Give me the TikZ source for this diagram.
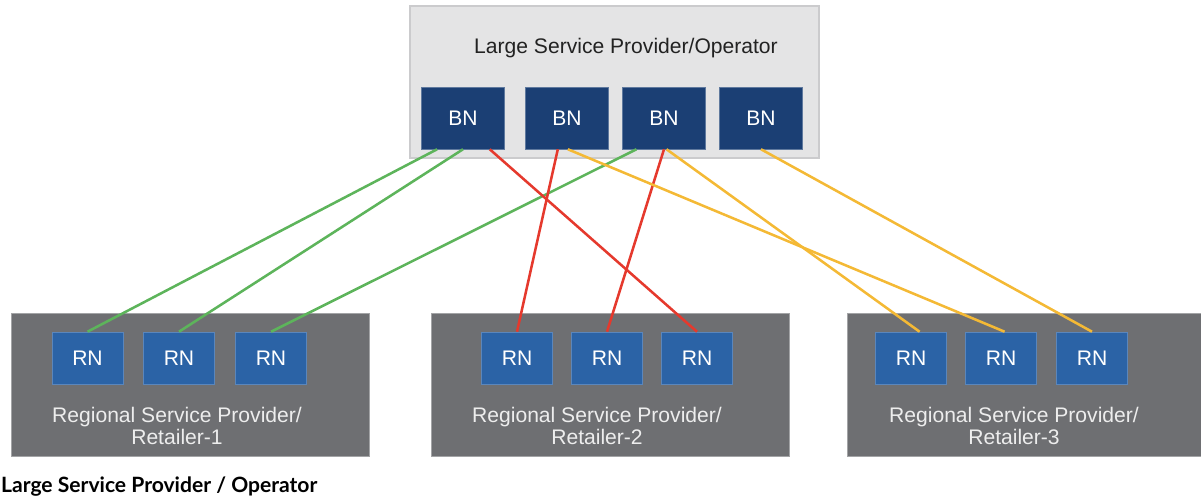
\documentclass[tikz,border=0pt]{standalone}
\usepackage{fontspec}
\setmainfont{Liberation Sans}
\newfontfamily\latofont{Lato}
\usepackage{tikz}
\usetikzlibrary{calc,positioning}
\definecolor{PanelGray}{HTML}{E4E4E5}
\definecolor{FrameGray}{HTML}{CBCBCD}
\definecolor{RegionGray}{HTML}{6E6F72}
\definecolor{RegionFrame}{HTML}{A3A4A6}
\definecolor{BNBlue}{HTML}{1B3F74}
\definecolor{RNBlue}{HTML}{2B63A6}
\definecolor{RNFrame}{HTML}{5A86BC}
\definecolor{LinkGreen}{HTML}{5DB45B}
\definecolor{LinkRed}{HTML}{E5392D}
\definecolor{LinkYellow}{HTML}{F4B935}
\definecolor{Ink}{HTML}{222222}
\definecolor{Paper}{HTML}{EDEDED}

\begin{document}
\begin{tikzpicture}[x=1cm,y=1cm,
    bnbox/.style={fill=BNBlue,draw=BNBlue!70!white,line width=0.4pt,minimum width=2.075cm,minimum height=1.55cm,inner sep=0pt,text=white,font=\fontsize{15}{15.6}\selectfont},
    rnbox/.style={fill=RNBlue,draw=RNFrame,line width=0.4pt,minimum width=1.775cm,minimum height=1.3cm,inner sep=0pt,text=white,font=\fontsize{15}{15.6}\selectfont},
    region/.style={fill=RegionGray,draw=RegionFrame,line width=0.6pt,minimum height=3.575cm,inner sep=0pt},
    regionlabel/.style={align=center,text=Paper,inner sep=0pt,font=\fontsize{15}{15.6}\selectfont},
    link/.style={line width=1.8pt}]
  \useasboundingbox (0,0) rectangle (30.025,12.425);
  % operator panel
  \node[fill=PanelGray,draw=FrameGray,line width=0.8pt,minimum width=10.225cm,minimum height=3.8cm,inner sep=0pt] (operator) at (15.3625,10.375) {};
  \node[text=Ink,font=\fontsize{15}{15.6}\selectfont] (optitle) at (15.65,11.225) {Large Service Provider/Operator};
  \node[bnbox] (bn1) at (11.575,9.475) {BN};
  \node[bnbox] (bn2) at (14.175,9.475) {BN};
  \node[bnbox] (bn3) at (16.6,9.475) {BN};
  \node[bnbox] (bn4) at (19.025,9.475) {BN};
  % regional providers
  \node[region,minimum width=8.95cm] (reg1) at (4.75,2.8125) {};
  \node[region,minimum width=8.95cm] (reg2) at (15.25,2.8125) {};
  \node[region,minimum width=8.85cm] (reg3) at (25.6,2.8125) {};
  \node[rnbox] (rna1) at (2.1875,3.475) {RN};
  \node[rnbox] (rna2) at (4.475,3.475) {RN};
  \node[rnbox] (rna3) at (6.775,3.475) {RN};
  \node[rnbox] (rnb1) at (12.925,3.475) {RN};
  \node[rnbox] (rnb2) at (15.175,3.475) {RN};
  \node[rnbox] (rnb3) at (17.425,3.475) {RN};
  \node[rnbox] (rnc1) at (22.775,3.475) {RN};
  \node[rnbox] (rnc2) at (25.025,3.475) {RN};
  \node[rnbox] (rnc3) at (27.3,3.475) {RN};
  \node[regionlabel] (lab1) at (4.425,1.775) {Regional Service Provider/\\Retailer-1};
  \node[regionlabel] (lab2) at (14.925,1.775) {Regional Service Provider/\\Retailer-2};
  \node[regionlabel] (lab3) at (25.35,1.775) {Regional Service Provider/\\Retailer-3};
  % links
  \draw[link,LinkGreen] ($(bn1.south west)!0.19!(bn1.south east)$) -- (rna1.north);
  \draw[link,LinkGreen] (bn1.south) -- (rna2.north);
  \draw[link,LinkGreen] ($(bn3.south west)!0.17!(bn3.south east)$) -- (rna3.north);
  \draw[link,LinkRed] ($(bn1.south west)!0.82!(bn1.south east)$) -- (rnb3.north);
  \draw[link,LinkRed] ($(bn2.south west)!0.39!(bn2.south east)$) -- (rnb1.north);
  \draw[link,LinkRed] (bn3.south) -- (rnb2.north);
  \draw[link,LinkYellow] ($(bn2.south west)!0.51!(bn2.south east)$) -- ($(rnc2.north west)!0.55!(rnc2.north east)$);
  \draw[link,LinkYellow] ($(bn3.south west)!0.53!(bn3.south east)$) -- ($(rnc1.north west)!0.62!(rnc1.north east)$);
  \draw[link,LinkYellow] (bn4.south) -- (rnc3.north);
  % caption
  \node[anchor=west,inner sep=0pt,font=\latofont\bfseries\fontsize{15}{15.5}\selectfont] (caption) at (0.02,0.27) {Large Service Provider / Operator};
\end{tikzpicture}
\end{document}
